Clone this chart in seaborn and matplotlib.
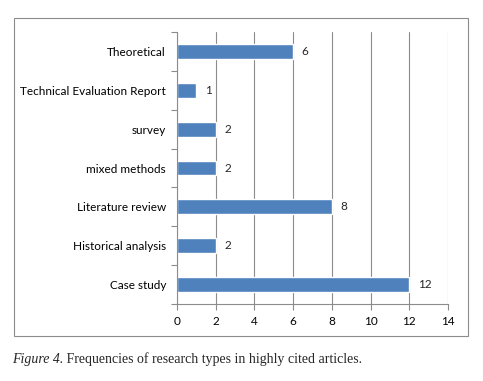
import matplotlib
matplotlib.use("Agg")
import matplotlib.pyplot as plt
import seaborn as sns
import pandas as pd
from matplotlib.patches import Rectangle

categories = ["Theoretical", "Technical Evaluation Report", "survey", "mixed methods",
              "Literature review", "Historical analysis", "Case study"]
counts = [6, 1, 2, 2, 8, 2, 12]
x_ticks = [0, 2, 4, 6, 8, 10, 12, 14]
caption_lead = "Figure 4."
caption_rest = " Frequencies of research types in highly cited articles."

sns.set_style("white")
plt.rcParams['font.family'] = ['Lato', 'DejaVu Sans']

df = pd.DataFrame({"type": categories, "count": counts})

fig = plt.figure(figsize=(4.83, 3.81), dpi=100)
ax = fig.add_axes([0.3665, 0.2021, 0.561, 0.7139])

sns.barplot(data=df, x="count", y="type", orient="h", color="#4F81BD",
            width=0.38, saturation=1, ax=ax, order=categories)

ax.set_xlim(0, 14)
ax.set_ylim(len(categories) - 0.5, -0.5)
ax.set_xticks(x_ticks)
ax.set_xlabel("")
ax.set_ylabel("")

# vertical gridlines
ax.grid(axis="x", color="#8c8c8c", linewidth=0.8)
ax.set_axisbelow(True)
for s in ["top", "right"]:
    ax.spines[s].set_visible(False)
for s in ["left", "bottom"]:
    ax.spines[s].set_color("#8c8c8c")
    ax.spines[s].set_linewidth(0.8)

# category ticks sit on the boundaries, like Excel
ax.set_yticks([i - 0.5 for i in range(len(categories) + 1)], minor=True)
ax.tick_params(axis="y", which="major", length=0, labelsize=8.5, pad=8, labelcolor="black")
ax.tick_params(axis="y", which="minor", length=4, color="#8c8c8c", width=0.8, direction="out", left=True)
ax.tick_params(axis="x", length=4, color="#8c8c8c", width=0.8, direction="out", labelsize=8.5, pad=5,
               bottom=True, labelcolor="black")

ax.bar_label(ax.containers[0], fmt="%d", padding=6, fontsize=8.5)

# outer chart border
fig.patches.append(Rectangle((0.029, 0.118), 0.94, 0.835, transform=fig.transFigure,
                             fill=False, edgecolor="#8c8c8c", linewidth=0.8))

t = fig.text(0.025, 0.047, caption_lead, fontsize=10, style="italic",
             family=["Liberation Serif"], va="baseline")
fig.canvas.draw()
bb = t.get_window_extent()
fig.text(bb.x1 / fig.bbox.width, 0.047, caption_rest, fontsize=10,
         family=["Liberation Serif"], va="baseline")

fig.savefig("out.png", dpi=100)
